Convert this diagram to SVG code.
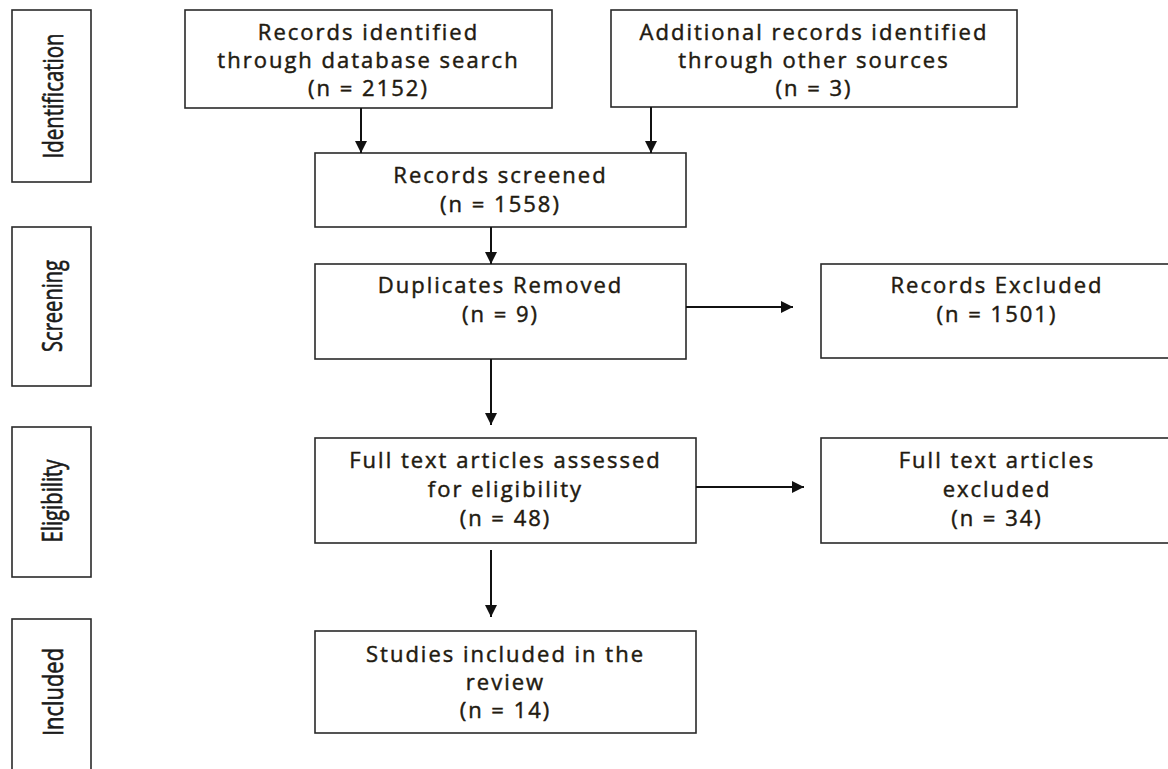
<svg xmlns="http://www.w3.org/2000/svg" width="1168" height="769" viewBox="0 0 1168 769">
  <style>
    .box { fill: #ffffff; stroke: #2a2a2a; stroke-width: 1.6; }
    .lbl { font-family: "Open Sans", "Noto Sans", sans-serif; font-size: 22px; fill: #221a10; stroke: #221a10; stroke-width: 0.45; text-anchor: middle; letter-spacing: 2px; }
    .stage { font-family: "Open Sans", "Noto Sans", sans-serif; font-size: 21px; fill: #1a1a1a; stroke: #1a1a1a; stroke-width: 0.5; text-anchor: middle; }
    .edge { stroke: #111; stroke-width: 2; fill: none; marker-end: url(#head); }
  </style>
  <defs>
    <marker id="head" viewBox="0 0 12 12" refX="12" refY="6" markerWidth="12" markerHeight="12" markerUnits="userSpaceOnUse" orient="auto">
      <path d="M0,0 L12,6 L0,12 Z" fill="#111"/>
    </marker>
  </defs>
  <rect width="1168" height="769" fill="#ffffff"/>

  <!-- Stage labels down the left side (tall, condensed lettering) -->
  <g id="stage-identification">
    <rect class="box" x="12" y="10" width="79" height="172"/>
    <text class="stage" transform="translate(63,96) rotate(-90) scale(1,1.3)" textLength="125" lengthAdjust="spacingAndGlyphs">Identification</text>
  </g>
  <g id="stage-screening">
    <rect class="box" x="12" y="227" width="79" height="159"/>
    <text class="stage" transform="translate(62,306) rotate(-90) scale(1,1.3)" textLength="92" lengthAdjust="spacingAndGlyphs">Screening</text>
  </g>
  <g id="stage-eligibility">
    <rect class="box" x="12" y="427" width="79" height="150"/>
    <text class="stage" transform="translate(62,501) rotate(-90) scale(1,1.3)" textLength="83" lengthAdjust="spacingAndGlyphs">Eligibility</text>
  </g>
  <g id="stage-included">
    <rect class="box" x="12" y="619" width="79" height="170"/>
    <text class="stage" transform="translate(63,692) rotate(-90) scale(1,1.3)" textLength="88" lengthAdjust="spacingAndGlyphs">Included</text>
  </g>

  <!-- Flow boxes -->
  <g id="database-search">
    <rect class="box" x="185" y="10" width="367" height="98"/>
    <text class="lbl" x="368.5" y="40">Records identified</text>
    <text class="lbl" x="368.5" y="68">through database search</text>
    <text class="lbl" x="368.5" y="96">(n = 2152)</text>
  </g>
  <g id="other-sources">
    <rect class="box" x="611" y="10" width="406" height="97"/>
    <text class="lbl" x="814" y="40">Additional records identified</text>
    <text class="lbl" x="814" y="68">through other sources</text>
    <text class="lbl" x="814" y="96">(n = 3)</text>
  </g>
  <g id="records-screened">
    <rect class="box" x="315" y="153" width="371" height="74"/>
    <text class="lbl" x="500.5" y="183">Records screened</text>
    <text class="lbl" x="500.5" y="212">(n = 1558)</text>
  </g>
  <g id="duplicates-removed">
    <rect class="box" x="315" y="264" width="371" height="95"/>
    <text class="lbl" x="500.5" y="293">Duplicates Removed</text>
    <text class="lbl" x="500.5" y="322">(n = 9)</text>
  </g>
  <g id="records-excluded">
    <rect class="box" x="821" y="264" width="360" height="94"/>
    <text class="lbl" x="997" y="293">Records Excluded</text>
    <text class="lbl" x="997" y="322">(n = 1501)</text>
  </g>
  <g id="full-text-assessed">
    <rect class="box" x="315" y="438" width="381" height="105"/>
    <text class="lbl" x="505.5" y="468">Full text articles assessed</text>
    <text class="lbl" x="505.5" y="497">for eligibility</text>
    <text class="lbl" x="505.5" y="526">(n = 48)</text>
  </g>
  <g id="full-text-excluded">
    <rect class="box" x="821" y="438" width="360" height="105"/>
    <text class="lbl" x="997" y="468">Full text articles</text>
    <text class="lbl" x="997" y="497">excluded</text>
    <text class="lbl" x="997" y="526">(n = 34)</text>
  </g>
  <g id="studies-included">
    <rect class="box" x="315" y="631" width="381" height="102"/>
    <text class="lbl" x="505.5" y="662">Studies included in the</text>
    <text class="lbl" x="505.5" y="690">review</text>
    <text class="lbl" x="505.5" y="718">(n = 14)</text>
  </g>

  <!-- Connectors -->
  <g id="connectors">
    <line class="edge" x1="361" y1="108" x2="361" y2="153"/>
    <line class="edge" x1="651" y1="107" x2="651" y2="153"/>
    <line class="edge" x1="491" y1="227" x2="491" y2="264"/>
    <line class="edge" x1="686" y1="307" x2="793" y2="307"/>
    <line class="edge" x1="491" y1="359" x2="491" y2="425"/>
    <line class="edge" x1="696" y1="487" x2="804" y2="487"/>
    <line class="edge" x1="491" y1="550" x2="491" y2="617"/>
  </g>
</svg>
